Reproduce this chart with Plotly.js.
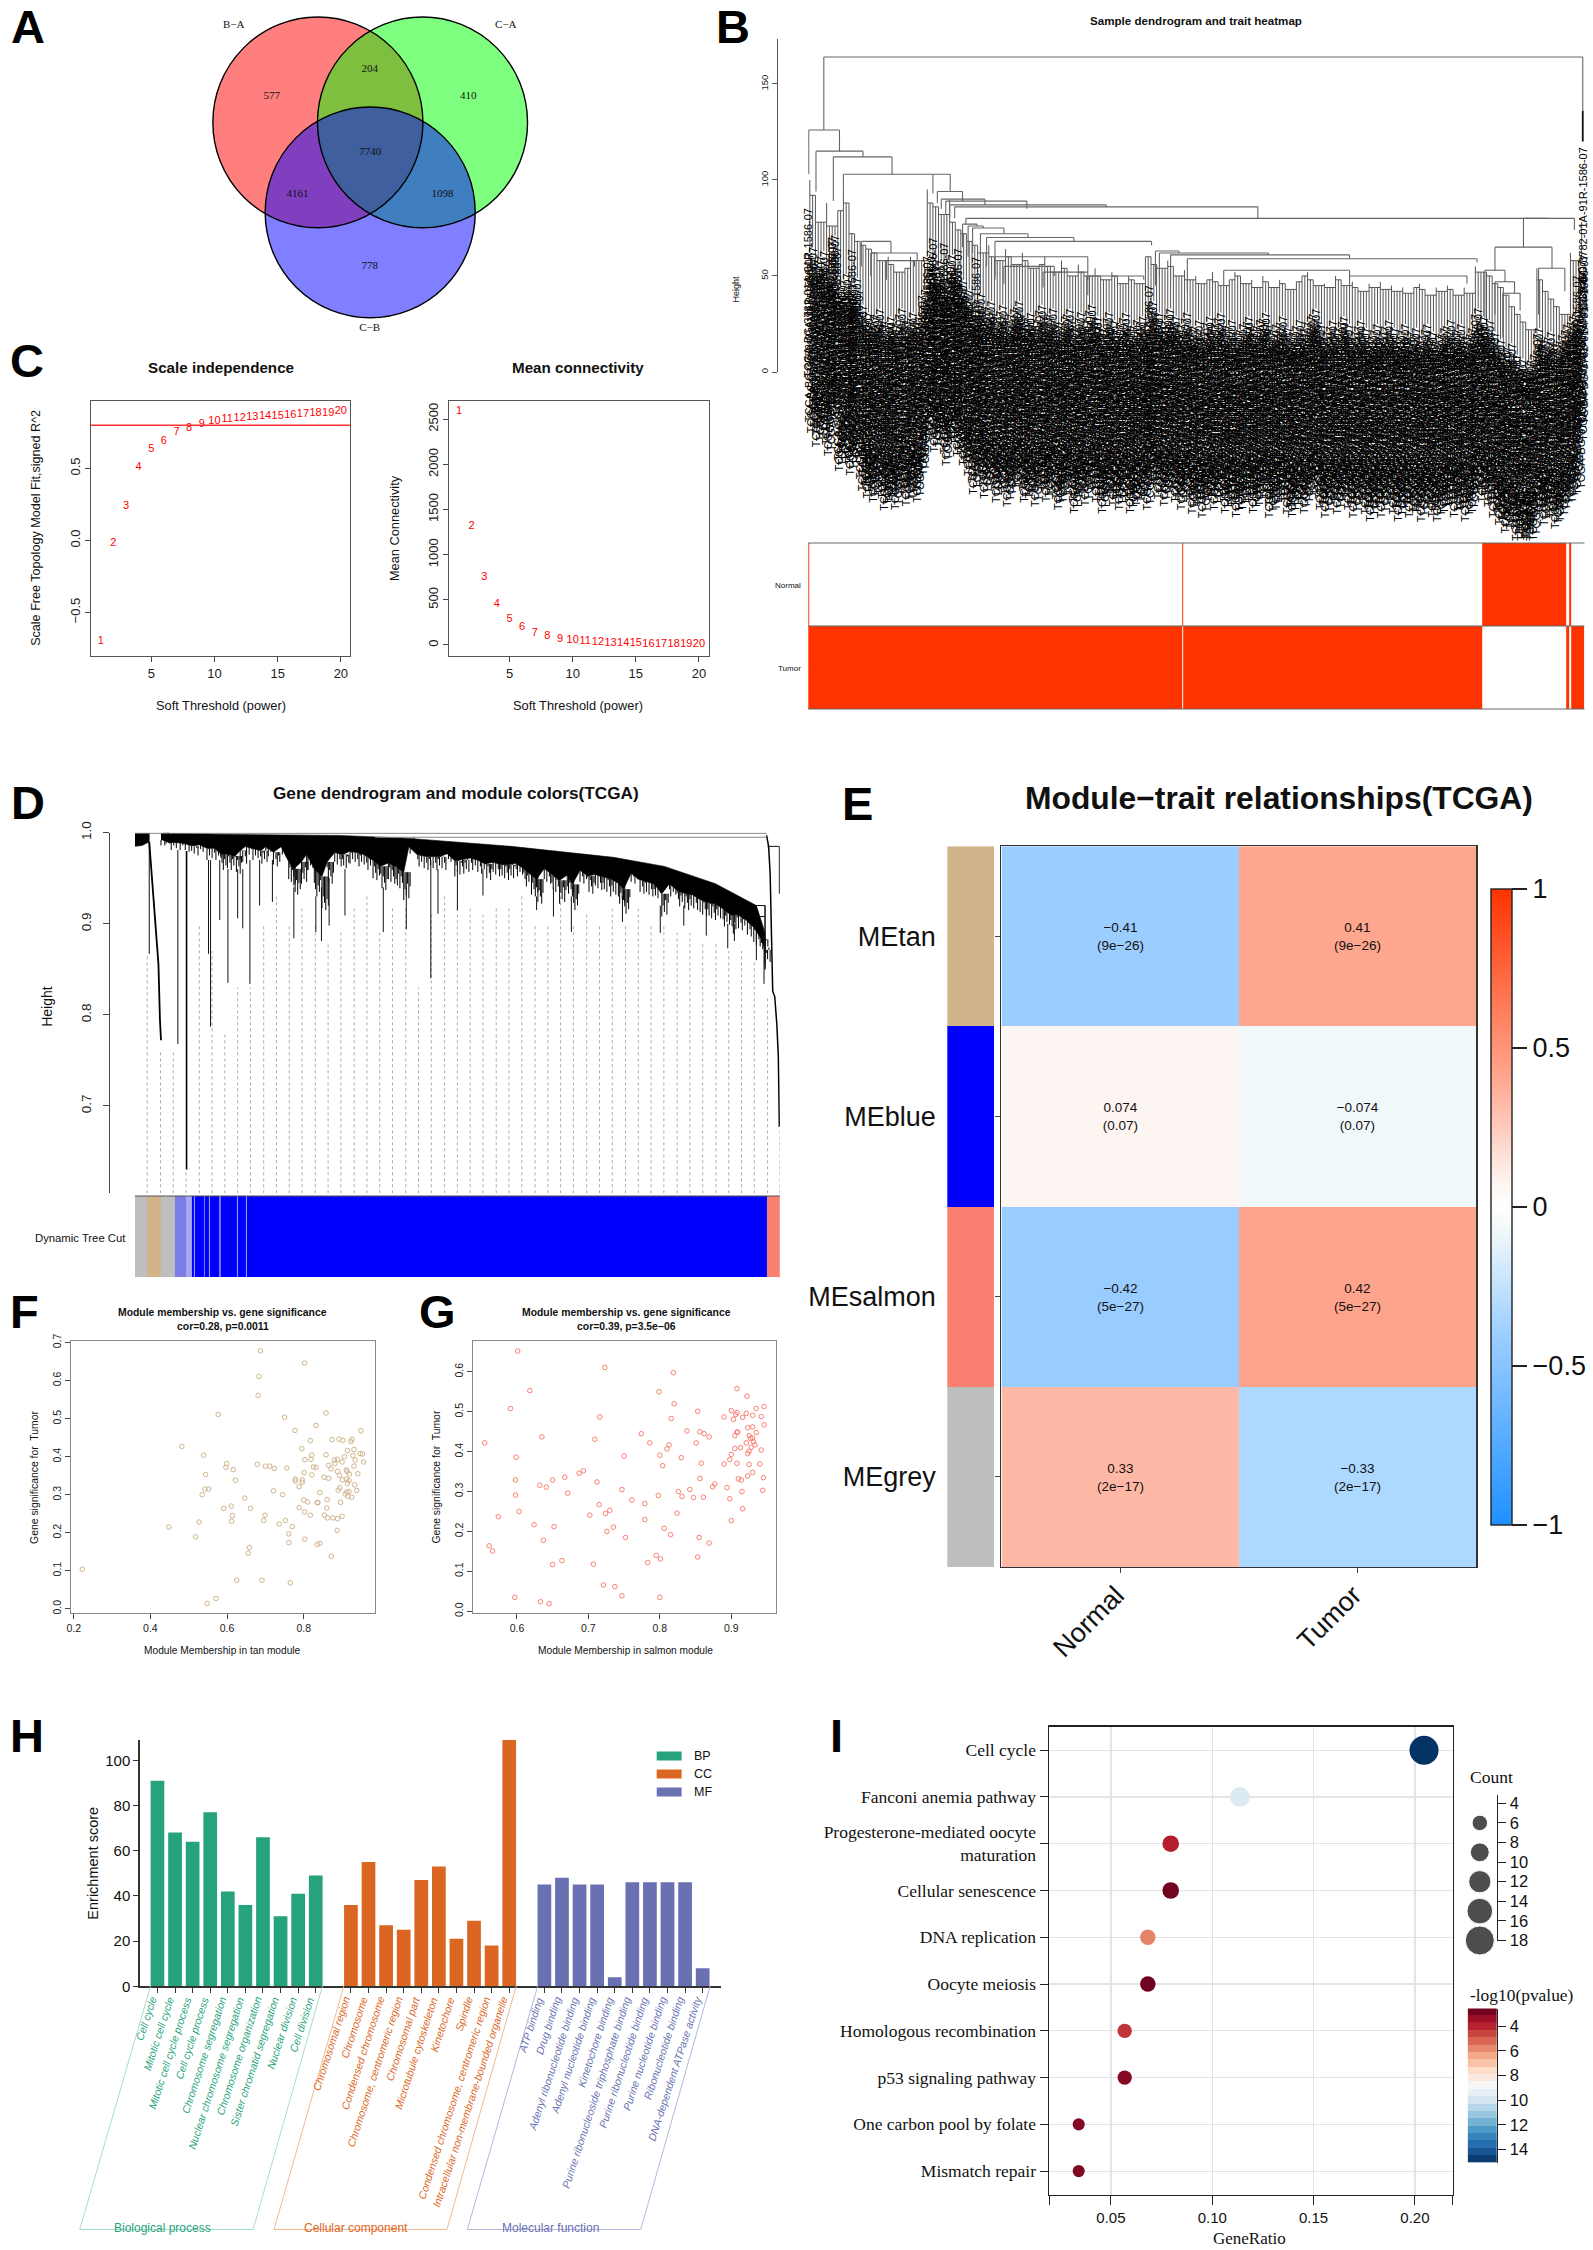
<!DOCTYPE html>
<html><head><meta charset="utf-8">
<script src="https://cdn.plot.ly/plotly-3.0.1.min.js"></script>
<style>html,body{margin:0;padding:0;background:#fff}</style></head>
<body><div id="fig" style="width:1593px;height:2250px"></div>
<script>
// ---------- DATA ----------
// A: Venn
const vennNames=["B−A","C−A","C−B"];
const vennCircles=[[319,122.4,105.4],[424,122.4,105.4],[371.5,212.4,105.4]];
const vennFills=["rgba(255,0,0,.5)","rgba(0,255,0,.5)","rgba(0,0,255,.5)"];
const vennCounts=["577","204","410","7740","4161","1098","778"];
const vennCountX=[272.7,371,469.8,371.5,298.6,444,371];
const vennCountY=[96,69,96,152.5,194.7,194.7,266.7];
const vennNameX=[234.5,507.6,371];
const vennNameY=[25.3,25.3,328];
// C: soft threshold
const powers=[1,2,3,4,5,6,7,8,9,10,11,12,13,14,15,16,17,18,19,20];
const scaleFit=[-.70,-.016,.237,.506,.633,.692,.75,.776,.808,.825,.844,.847,.857,.86,.86,.87,.873,.883,.886,.896];
const meanConn=[2593,1317,747,456,290,197,135,93,67,47,36,26,21,16,16,10,10,10,5,5];
// B: sample dendrogram
const sampleLabel="TCGA-BG-3782-01A-91R-1586-07";
const bStemTop=[100,92,78,88,76,84,95,88,72,68,66,64,62,58,60,56,52,54,60,58,58,95,88,86,82,90,78,74,72,
68,66,62,66,60,58,64,60,56,62,58,54,56,60,55,52,58,54,50,56,52,50,54,50,48,52,50,46,50,48,46,60,
60,56,54,58,55,50,53,48,50,46,48,52,47,45,48,52,50,46,48,44,50,47,44,48,46,43,47,50,52,48,45,46,44,50,48,45,47,44,42,46,44,47,43,45,42,44,41,44,46,43,40,44,42,45,43,40,44,41,55,52,
52,50,46,44,40,34,30,26,22,54,48,42,38,34,30,62,58,78];
const bStemBottom=[62,55,60,50,68,42,48,40,46,32,28,26,30,22,26,22,30,24,28,26,40,60,52,55,45,58,50,45,40,
30,38,28,34,26,32,24,30,34,26,28,24,32,26,30,22,26,30,20,28,24,32,26,20,28,24,22,28,20,24,26,22,
34,28,24,30,26,22,28,20,24,18,26,22,28,20,24,18,22,26,20,24,28,18,22,26,20,18,24,20,26,30,22,18,24,20,26,22,18,24,20,16,22,18,24,20,16,22,18,20,16,22,18,16,20,24,18,22,16,20,30,26,
24,18,14,10,12,6,4,2,6,20,14,18,12,16,22,26,30,58];
const bLeafStep=[0,2.5,5,7.5];
const bLeafDrop=[0,-6,3,-3];
const bMerges=[[28,1385,164,126,136],[1,56,126,103,115],[14,98,115,94,112],[45,150,112,89,103],[63,223,103,95,103],[223,254,103,93,94],[231,276,94,88,89],[238,316,90,85,87],[246,391,89,82,85],[253,533,87,80,86],[262,804,86,80,80],[282,1324,80,77,80],[1279,1370,80,65,74],[1228,1330,65,53,54],[1210,1246,53,28,47],[1228,1263,47,30,41],[1242,1273,41,18,32],[1306,1353,54,30,42],[276,302,77,65,76],[286,313,76,60,75],[294,350,75,62,72],[308,393,72,60,70],[319,475,70,55,68],[334,614,68,50,66],[621,663,63,45,62],[628,823,62,50,61],[648,968,61,47,59],[678,1196,59,42,57],[95,148,68,55,62],[112,195,62,50,58],[140,190,58,48,55],[743,968,53,45,50],[968,1178,50,42,46],[334,500,60,48,52],[350,440,55,46,50],[420,500,52,44,48],[500,600,50,40,48]];
const bExtraLeafX=[1385,0,43,78,223,243,268,300,610,1375];
const bExtraLeafH=[117,85,70,64,70,67,64,60,45,50];
const bTraitEdges=[0,1,669,670.5,1205,1355,1360,1365,1388];
const bNormal=[1,0,1,0,1,0,1,0];
const bTumor=[1,1,0,1,0,1,0,1];
// D: gene dendrogram
const dTopX=[51,200,400,531,736,936,1036,1136,1216,1233];
const dTopH=[.9995,.998,.997,.994,.985,.973,.963,.944,.920,.89];
const dLowX=[51,56,66,81,96,111,126,141,156,168,181,196,206,216,231,246,256,271,286,301,311,326,336,351,366,376,391,406,421,436,451,466,481,496,511,526,536,551,566,581,596,611,626,641,656,671,686,701,716,731,746,761,776,786,801,816,831,846,856,871,886,901,916,931,946,956,971,986,1001,1016,1031,1046,1061,1076,1091,1106,1121,1136,1151,1166,1181,1196,1211,1226,1233];
const dLowH=[.986,.986,.981,.981,.979,.975,.977,.970,.970,.959,.959,.955,.966,.974,.970,.966,.974,.963,.974,.944,.930,.944,.959,.930,.915,.944,.963,.959,.966,.963,.959,.948,.937,.944,.937,.926,.977,.963,.959,.959,.959,.966,.952,.955,.959,.955,.948,.952,.948,.948,.952,.941,.930,.922,.944,.933,.922,.933,.915,.944,.933,.937,.933,.930,.922,.911,.944,.933,.930,.926,.908,.930,.919,.915,.915,.908,.904,.904,.897,.889,.893,.886,.875,.867,.856];
const dFringeStep=[0,2.5,5,7.5,10,12.5];
const dFringeRise=[0,.012,.005,.018,.002,.015,.008];
const dSpikes=[[84,.981,.768],[144,.97,.867],[148,.97,.787],[166,.97,.904],[182,.96,.835],[201,.96,.906],[211,.96,.895],[225,.97,.834],[244,.97,.920],[269,.97,.924],[311,.94,.884],[354,.93,.891],[365,.94,.881],[380,.95,.898],[411,.96,.909],[486,.94,.891],[531,.94,.894],[579,.97,.840],[593,.96,.911],[631,.96,.915],[681,.96,.931],[786,.93,.915],[819,.94,.908],[854,.93,.891],[954,.93,.902],[1028,.92,.890],[1074,.92,.898],[1118,.92,.887],[1160,.90,.873],[1173,.90,.881],[1216,.89,.860],[1231,.89,.834],[28,.99,.867],[1233,.92,.85]];
const dDeepSpikeX=[101],dDeepSpikeTop=[.98],dDeepSpikeBottom=[.630];
const dSlantX=[28,36,41,46,49,51],dSlantH=[.990,.93,.897,.856,.794,.772];
const dRightX=[1236,1240,1243,1248,1252,1256,1259,1260,1261],dRightH=[.997,.985,.955,.826,.82,.79,.755,.72,.677];
const dGuideX=[24,50,75,100,126,151,176,201,226,252,277,302,327,353,378,403,429,454,479,504,530,555,580,606,631,656,681,707,732,757,783,808,833,858,884,909,934,960,985,1010,1035,1061,1086,1111,1137,1162,1187,1212,1238,1262];
const dGuideTop=[.865,.762,.762,.63,.90,.87,.78,.83,.83,.90,.93,.90,.92,.90,.88,.89,.92,.93,.89,.92,.92,.83,.91,.93,.92,.92,.91,.92,.92,.93,.90,.90,.93,.90,.91,.90,.92,.90,.92,.90,.90,.89,.89,.88,.88,.87,.87,.86,.82,.675];
const dCutEdges=[0,24,51,79,100,112,116,118,135,137,145,146,165,168,176,177,189,190,200,201,218,219,1236,1262];
const dCutClass=[0,1,0,4,5,2,5,2,4,2,5,2,4,2,5,2,5,2,5,2,5,2,3];
const dCutColors=["#bebebe","#d2b48c","#0000ff","#fa8072","#7c7ce8","#a8a8f0"];
// E: module-trait
const modules=["MEtan","MEblue","MEsalmon","MEgrey"];
const moduleColors=["#d2b48c","#0000ff","#fa8072","#bebebe"];
const traits=["Normal","Tumor"];
const corr=[[-.41,.41],[.074,-.074],[-.42,.42],[.33,-.33]];
const corrText=[["−0.41<br>(9e−26)","0.41<br>(9e−26)"],["0.074<br>(0.07)","−0.074<br>(0.07)"],["−0.42<br>(5e−27)","0.42<br>(5e−27)"],["0.33<br>(2e−17)","−0.33<br>(2e−17)"]];
// F, G: module membership vs gene significance
const fX=[.2225,.448,.482,.518,.527,.535,.539,.544,.542,.552,.577,.571,.548,.591,.597,.599,.611,.614,.612,.616,.622,.625,.646,.655,.658,.661,.679,.681,.683,.687,.691,.695,.699,.700,.711,.723,.721,.736,.745,.750,.752,.756,.761,.761,.770,.765,.777,.778,.778,.788,.788,.796,.796,.795,.800,.802,.801,.802,.803,.803,.810,.817,.817,.819,.821,.821,.825,.832,.832,.835,.837,.835,.842,.842,.853,.854,.858,.858,.861,.860,.862,.865,.865,.871,.872,.874,.876,.881,.880,.888,.887,.888,.892,.890,.888,.894,.896,.893,.900,.900,.901,.902,.906,.908,.911,.913,.911,.914,.914,.912,.915,.918,.918,.919,.923,.926,.925,.928,.931,.931,.934,.933,.938,.941,.947,.949,.953,.956];
const fY=[.104,.215,.427,.189,.228,.300,.404,.353,.315,.315,.511,.027,.014,.264,.372,.382,.270,.245,.230,.366,.338,.075,.291,.146,.161,.264,.380,.561,.611,.678,.075,.232,.246,.375,.375,.369,.310,.223,.300,.504,.232,.370,.197,.174,.216,.068,.469,.341,.336,.321,.266,.339,.333,.421,.286,.646,.358,.255,.183,.392,.281,.246,.442,.393,.404,.352,.373,.372,.482,.279,.279,.169,.172,.306,.346,.246,.515,.405,.287,.265,.239,.343,.377,.368,.138,.445,.239,.382,.391,.393,.206,.237,.446,.312,.361,.318,.280,.351,.386,.243,.339,.443,.400,.302,.365,.361,.341,.330,.416,.307,.296,.308,.337,.354,.440,.446,.293,.403,.419,.375,.391,.326,.311,.355,.408,.468,.407,.386];
const gX=[.555,.561,.566,.574,.591,.597,.598,.598,.599,.601,.603,.618,.624,.632,.633,.635,.637,.641,.645,.650,.650,.652,.663,.667,.671,.687,.693,.702,.707,.709,.712,.715,.716,.721,.723,.724,.726,.730,.735,.737,.747,.747,.750,.752,.761,.774,.779,.779,.783,.786,.795,.798,.799,.800,.800,.801,.804,.806,.810,.813,.815,.816,.819,.820,.824,.826,.830,.831,.838,.842,.847,.851,.853,.853,.855,.856,.856,.858,.861,.862,.869,.869,.874,.877,.890,.890,.894,.898,.898,.900,.900,.900,.903,.905,.905,.906,.908,.908,.908,.908,.909,.910,.913,.914,.915,.916,.916,.921,.921,.922,.923,.923,.923,.925,.925,.925,.927,.928,.930,.931,.930,.930,.930,.933,.935,.935,.940,.942,.942,.944,.945,.946,.946];
const gY=[.422,.164,.151,.237,.508,.035,.329,.291,.386,.652,.250,.553,.217,.316,.024,.437,.178,.311,.019,.329,.117,.212,.127,.336,.296,.346,.352,.241,.118,.431,.324,.267,.487,.066,.611,.245,.200,.253,.211,.062,.039,.305,.389,.185,.279,.445,.270,.230,.122,.422,.140,.290,.550,.035,.391,.131,.365,.208,.407,.417,.192,.483,.598,.520,.246,.300,.385,.288,.452,.305,.285,.422,.136,.501,.185,.333,.450,.371,.286,.445,.171,.437,.312,.319,.369,.487,.310,.282,.380,.393,.227,.503,.481,.408,.440,.493,.558,.371,.498,.449,.449,.332,.410,.329,.300,.486,.257,.422,.496,.539,.460,.395,.339,.368,.401,.440,.433,.411,.434,.425,.491,.462,.348,.417,.508,.448,.369,.488,.404,.303,.335,.513,.467];
// H: GO enrichment
const bpTerms=["Cell cycle","Mitotic cell cycle","Mitotic cell cycle process","Cell cycle process","Chromosome segregation","Nuclear chromosome segregation","Chromosome organization","Sister chromatid segregation","Nuclear division","Cell division"];
const ccTerms=["Chromosomal region","Chromosome","Condensed chromosome","Chromosome, centromeric region","Chromosomal part","Microtubule cytoskeleton","Kinetochore","Spindle","Condensed chromosome, centromeric region","Intracellular non-membrane-bounded organelle"];
const mfTerms=["ATP binding","Drug binding","Adenyl ribonucleotide binding","Adenyl nucleotide binding","Kinetochore binding","Purine ribonucleoside triphosphate binding","Purine ribonucleotide binding","Purine nucleotide binding","Ribonucleotide binding","DNA-dependent ATPase activity"];
const bpScore=[91,68,64,77,42,36,66,31,41,49];
const ccScore=[36,55,27,25,47,53,21,29,18,109];
const mfScore=[45,48,45,45,4,46,46,46,46,8];
const bpPos=[0,1,2,3,4,5,6,7,8,9],ccPos=[11,12,13,14,15,16,17,18,19,20],mfPos=[22,23,24,25,26,27,28,29,30,31];
const goColors=["#26a37c","#db6622","#6a71b3"],goLight=["#a8dcc9","#f3b894","#b3b8dc"];
// I: KEGG
const pathways=["Cell cycle","Fanconi anemia pathway","Progesterone-mediated oocyte<br>maturation","Cellular senescence","DNA replication","Oocyte meiosis","Homologous recombination","p53 signaling pathway","One carbon pool by folate","Mismatch repair"];
const geneRatio=[.2045,.1136,.0795,.0795,.0682,.0682,.0568,.0568,.0341,.0341];
const keggCount=[18,10,7,7,6,6,5,5,3,3];
const keggLogP=[15,9.7,3.9,2.75,5.7,2.7,4.3,3.1,3.05,3.0];
const countLegend=[3,6,9,12,15,18];
const pLevels=[2.8,3.4,4,4.6,5.2,5.8,6.4,7,7.6,8.2,8.8,9.4,10,10.6,11.2,11.8,12.4,13,13.6,14.2,14.8];
const rdbu=["#67001f","#b2182b","#d6604d","#f4a582","#fddbc7","#f7f7f7","#d1e5f0","#92c5de","#4393c3","#2166ac","#053061"];

// ---------- HELPERS ----------
const W=1593,H=2250,KX=.9965;
const fx=p=>p*KX/W, fy=p=>1-p/H;
const SANS="Liberation Sans",SERIF="Liberation Serif";
const ann=[],shapes=[],traces=[];
const layout={width:W,height:H,margin:{l:0,r:0,t:0,b:0,pad:0},showlegend:false,paper_bgcolor:"#fff",plot_bgcolor:"rgba(0,0,0,0)",font:{family:SANS,color:"#111"},annotations:ann,shapes:shapes};
function T(text,x,y,o={}){ann.push({text:text,x:fx(x),y:fy(y),xref:"paper",yref:"paper",showarrow:false,xanchor:o.anchor||"center",yanchor:"middle",textangle:o.angle||0,font:{family:o.family||SANS,size:o.size||12,color:o.color||"#111"}});}
function axes(n,l,r,t,b,xo,yo){
  const sx=n==1?"xaxis":"xaxis"+n, sy=n==1?"yaxis":"yaxis"+n;
  layout[sx]=Object.assign({domain:[fx(l),fx(r)],anchor:n==1?"y":"y"+n,showgrid:false,zeroline:false},xo);
  layout[sy]=Object.assign({domain:[fy(b),fy(t)],anchor:n==1?"x":"x"+n,showgrid:false,zeroline:false},yo);
  return {xaxis:n==1?"x":"x"+n,yaxis:n==1?"y":"y"+n};
}
function segs(list){const x=[],y=[];list.forEach(s=>{x.push(s[0],s[1],null);y.push(s[2],s[3],null);});return {x,y};}
const hid={visible:false};
const rAxis=(size,c)=>({showline:true,linecolor:c||"#555",linewidth:1,mirror:true,ticks:"outside",ticklen:5,tickcolor:"#444",tickfont:{size:size,color:"#222"}});

// ---------- A ----------
let a=axes(1,200,540,0,340,Object.assign({range:[200,540]},hid),Object.assign({range:[340,0]},hid));
vennCircles.forEach((c,i)=>shapes.push({type:"circle",xref:"x",yref:"y",x0:c[0]-c[2],x1:c[0]+c[2],y0:c[1]-c[2],y1:c[1]+c[2],fillcolor:vennFills[i],line:{width:0},layer:"below"}));
vennCircles.forEach(c=>shapes.push({type:"circle",xref:"x",yref:"y",x0:c[0]-c[2],x1:c[0]+c[2],y0:c[1]-c[2],y1:c[1]+c[2],fillcolor:"rgba(0,0,0,0)",line:{width:1.4,color:"#000"},layer:"below"}));
traces.push(Object.assign({type:"scatter",mode:"text",x:vennCountX,y:vennCountY,text:vennCounts,textfont:{family:SERIF,size:11,color:"#111"},cliponaxis:false},a));
traces.push(Object.assign({type:"scatter",mode:"text",x:vennNameX,y:vennNameY,text:vennNames,textfont:{family:SERIF,size:11,color:"#111"},cliponaxis:false},a));

// ---------- C ----------
a=axes(2,91.4,351.7,401,656,Object.assign({range:[.24,20.76],tickvals:[5,10,15,20]},rAxis(13)),Object.assign({range:[-.802,.968],tickvals:[-.5,0,.5],ticktext:["−0.5","0.0","0.5"],tickangle:-90},rAxis(13)));
traces.push(Object.assign({type:"scatter",mode:"text",x:powers,y:scaleFit,text:powers.map(String),textfont:{size:11,color:"#ff0000"},cliponaxis:false},a));
shapes.push({type:"line",xref:"x2 domain",yref:"y2",x0:0,x1:1,y0:.8,y1:.8,line:{color:"#ff3030",width:1.4}});
a=axes(3,451,711,401,656,Object.assign({range:[.24,20.76],tickvals:[5,10,15,20]},rAxis(13)),Object.assign({range:[-122,2702],tickvals:[0,500,1000,1500,2000,2500],tickangle:-90},rAxis(13)));
traces.push(Object.assign({type:"scatter",mode:"text",x:powers,y:meanConn,text:powers.map(String),textfont:{size:11,color:"#ff0000"},cliponaxis:false},a));
T("<b>Scale independence</b>",221.5,367.5,{size:15.2});T("<b>Mean connectivity</b>",580.5,367.5,{size:15.2});
T("Soft Threshold (power)",221.5,706,{size:12.8});T("Soft Threshold (power)",580.5,706,{size:12.8});
T("Scale Free Topology Model Fit,signed R^2",36,528,{size:12.6,angle:-90});
T("Mean Connectivity",395.5,528,{size:12.8,angle:-90});

// ---------- B ----------
a=axes(4,811,1590,39,372,Object.assign({range:[0,1388]},hid),{range:[0,173.4],tickvals:[0,50,100,150],tickangle:-90,showline:true,linecolor:"#555",ticks:"outside",ticklen:5,tickcolor:"#555",tickfont:{size:9.5,color:"#222"},anchor:"free",position:fx(780)});
const stemX=bStemTop.map((_,i)=>3+10*i);
const sList=[];
stemX.forEach((x,i)=>{sList.push([x,x,bStemBottom[i],bStemTop[i]]);
  if(i<stemX.length-1){const h=Math.min(bStemTop[i],bStemTop[i+1]);sList.push([x,stemX[i+1],h,h]);sList.push([x+5,x+5,bStemBottom[i]+bLeafDrop[2],h]);}});
let s=segs(sList);
traces.push(Object.assign({type:"scatter",mode:"lines",x:s.x,y:s.y,line:{color:"#555",width:1}},a));
const mList=[];
bMerges.forEach(m=>{mList.push([m[0],m[1],m[2],m[2]],[m[0],m[0],m[3],m[2]],[m[1],m[1],m[4],m[2]]);});
s=segs(mList);
traces.push(Object.assign({type:"scatter",mode:"lines",x:s.x,y:s.y,line:{color:"#666",width:1.1}},a));
traces.push(Object.assign({type:"scatter",mode:"lines",x:[1385,1385],y:[136,120],line:{color:"#111",width:1.8}},a));
function leafLabel(x,h){ann.push({text:sampleLabel,x:x,y:Math.max(h,0.2),xref:"x4",yref:"y4",showarrow:false,xanchor:"center",yanchor:"top",textangle:-90,font:{size:11,color:"#000"},borderpad:0,borderwidth:0});}
stemX.forEach((x,i)=>bLeafStep.forEach((d,k)=>leafLabel(x+d,bStemBottom[i]+bLeafDrop[k])));
bExtraLeafX.forEach((x,i)=>leafLabel(x,bExtraLeafH[i]));
a=axes(5,811,1590,543,709,Object.assign({range:[0,1388]},hid),Object.assign({range:[2,0]},hid));
traces.push(Object.assign({type:"heatmap",x:bTraitEdges,y:[0,1,2],z:[bNormal,bTumor],zmin:0,zmax:1,colorscale:[[0,"#ffffff"],[1,"#ff3300"]],showscale:false},a));
[543,626,709].forEach(y=>shapes.push({type:"line",xref:"paper",yref:"paper",x0:fx(811),x1:fx(1590),y0:fy(y),y1:fy(y),line:{color:"#666",width:1}}));
T("<b>Sample dendrogram and trait heatmap</b>",1200,20.6,{size:11.6});
T("Height",738.5,288.7,{size:9,angle:-90});
T("Normal",806,585,{size:8,anchor:"right"});T("Tumor",806,668,{size:8,anchor:"right"});

// ---------- D ----------
a=axes(6,135.4,782.6,832.7,1193.3,Object.assign({range:[0,1262]},hid),{range:[.604,1],tickvals:[.7,.8,.9,1],ticktext:["0.7","0.8","0.9","1.0"],tickangle:-90,ticklabelstandoff:7,showline:true,linecolor:"#444",ticks:"outside",ticklen:6,tickcolor:"#444",tickfont:{size:13.5,color:"#222"},anchor:"free",position:fx(109.7)});
s=segs(dGuideX.map((x,i)=>[x,x,.604,dGuideTop[i]]));
traces.push(Object.assign({type:"scatter",mode:"lines",x:s.x,y:s.y,line:{color:"#aaa",width:1,dash:"dot"}},a));
const topAt=x=>{let j=0;while(j<dTopX.length-2&&dTopX[j+1]<x)j++;const t=(x-dTopX[j])/(dTopX[j+1]-dTopX[j]);return dTopH[j]+t*(dTopH[j+1]-dTopH[j]);};
const solidLow=dLowX.map((x,i)=>{const t=topAt(x);return t-(t-dLowH[i])*.55;});
traces.push(Object.assign({type:"scatter",mode:"lines",fill:"toself",fillcolor:"#000",line:{color:"#000",width:.6},x:dTopX.concat(dLowX.slice().reverse()),y:dTopH.concat(solidLow.slice().reverse())},a));
traces.push(Object.assign({type:"scatter",mode:"lines",fill:"toself",fillcolor:"#000",line:{color:"#000",width:.6},x:[0,28,28,14,0],y:[.9995,.9995,.99,.986,.985]},a));
const fringe=[];let fk=0;
dLowX.forEach((x,i)=>dFringeStep.forEach(d=>{fringe.push([x+d,x+d,dLowH[i]+dFringeRise[fk%dFringeRise.length],solidLow[i]]);fk++;}));
s=segs(fringe);
traces.push(Object.assign({type:"scatter",mode:"lines",x:s.x,y:s.y,line:{color:"#000",width:1}},a));
s=segs(dSpikes.map(v=>[v[0],v[0],v[2],v[1]]));
traces.push(Object.assign({type:"scatter",mode:"lines",x:s.x,y:s.y,line:{color:"#111",width:1}},a));
s=segs(dDeepSpikeX.map((x,i)=>[x,x,dDeepSpikeBottom[i],dDeepSpikeTop[i]]));
traces.push(Object.assign({type:"scatter",mode:"lines",x:s.x,y:s.y,line:{color:"#000",width:1.6}},a));
traces.push(Object.assign({type:"scatter",mode:"lines",x:dSlantX,y:dSlantH,line:{color:"#000",width:1.8}},a));
traces.push(Object.assign({type:"scatter",mode:"lines",x:dRightX,y:dRightH,line:{color:"#000",width:1.5}},a));
traces.push(Object.assign({type:"scatter",mode:"lines",x:[1238,1261,1261],y:[.985,.985,.933],line:{color:"#111",width:1}},a));
traces.push(Object.assign({type:"scatter",mode:"lines",x:[1211,1233,1233],y:[.92,.92,.85],line:{color:"#111",width:1}},a));
traces.push(Object.assign({type:"scatter",mode:"lines",x:[1211,1233],y:[.908,.908],line:{color:"#111",width:1}},a));
traces.push(Object.assign({type:"scatter",mode:"lines",x:[0,1236],y:[.9995,.9995],line:{color:"#777",width:1.4}},a));
traces.push(Object.assign({type:"scatter",mode:"lines",x:[470,1236],y:[.995,.995],line:{color:"#888",width:1.2}},a));
a=axes(7,135.4,782.6,1196,1277,Object.assign({range:[0,1262]},hid),Object.assign({range:[0,1]},hid));
traces.push(Object.assign({type:"heatmap",x:dCutEdges,y:[0,1],z:[dCutClass],zmin:0,zmax:5,colorscale:dCutColors.map((c,i)=>[i/5,c]),showscale:false},a));
shapes.push({type:"line",xref:"paper",yref:"paper",x0:fx(135.4),x1:fx(782.6),y0:fy(1196),y1:fy(1196),line:{color:"#555",width:1}});
T("<b>Gene dendrogram and module colors(TCGA)</b>",458,792.7,{size:17.2});
T("Height",47,1006,{size:14,angle:-90});
T("Dynamic Tree Cut",128,1238,{size:11.3,anchor:"right"});

// ---------- E ----------
a=axes(8,950.5,997.5,846.2,1567,Object.assign({range:[0,1]},hid),{autorange:"reversed",type:"category",ticks:"outside",ticklen:5,tickcolor:"rgba(0,0,0,0)",tickfont:{size:27,color:"#111"},showline:false});
traces.push(Object.assign({type:"heatmap",x:[0,1],y:modules,z:modules.map((_,i)=>[i]),zmin:0,zmax:3,colorscale:moduleColors.map((c,i)=>[i/3,c]),showscale:false},a));
a=axes(9,1005,1481.6,846.2,1567,{type:"category",showline:true,mirror:true,linecolor:"#333",linewidth:1.2,showticklabels:false},{autorange:"reversed",type:"category",showline:true,mirror:true,linecolor:"#333",linewidth:1.2,showticklabels:false});
traces.push(Object.assign({type:"heatmap",x:traits,y:modules,z:corr,text:corrText,texttemplate:"%{text}",textfont:{size:13.5,color:"#111",family:SANS},zmin:-1,zmax:1,
 colorscale:[[0,"#1E90FF"],[.29,"#99CCFF"],[.335,"#ADD8FF"],[.463,"#f1f8fa"],[.5,"#ffffff"],[.537,"#fdf5f1"],[.665,"#ffb8a5"],[.705,"#ffa68e"],[1,"#ff3300"]],
 colorbar:{x:fx(1496),xanchor:"left",xpad:0,y:fy(1525),yanchor:"bottom",ypad:0,lenmode:"pixels",len:635.5,thicknessmode:"pixels",thickness:21.3,tickmode:"array",tickvals:[-1,-.5,0,.5,1],ticktext:["−1","−0.5","0","0.5","1"],ticks:"outside",ticklen:15,tickwidth:1.4,tickcolor:"#222",outlinewidth:1.4,outlinecolor:"#222",tickfont:{size:27,color:"#111"}}},a));
T("<b>Module−trait relationships(TCGA)</b>",1283,797.7,{size:31.8});
T(traits[0],1092,1621.6,{size:27,angle:-45});
T(traits[1],1334,1618,{size:27,angle:-45});

// ---------- F, G ----------
a=axes(10,71.3,376,1340.7,1613.3,Object.assign({range:[.193,.985],tickvals:[.2,.4,.6,.8],tickformat:".1f"},rAxis(10.5,"#888")),Object.assign({range:[-.012,.705],tickvals:[0,.1,.2,.3,.4,.5,.6,.7],tickformat:".1f",tickangle:-90},rAxis(10.5,"#888")));
traces.push(Object.assign({type:"scatter",mode:"markers",x:fX,y:fY,marker:{symbol:"circle-open",size:4.6,color:"#d2b48c",opacity:1,line:{width:1,color:"#d2b48c"}}},a));
a=axes(11,475,778.3,1340.7,1613.3,Object.assign({range:[.539,.962],tickvals:[.6,.7,.8,.9],tickformat:".1f"},rAxis(10.5,"#888")),Object.assign({range:[-.005,.678],tickvals:[0,.1,.2,.3,.4,.5,.6],tickformat:".1f",tickangle:-90},rAxis(10.5,"#888")));
traces.push(Object.assign({type:"scatter",mode:"markers",x:gX,y:gY,marker:{symbol:"circle-open",size:4.6,color:"#fa8072",opacity:1,line:{width:1,color:"#fa8072"}}},a));
T("<b>Module membership vs. gene significance</b>",223.7,1312.7,{size:10.4});
T("<b>cor=0.28, p=0.0011</b>",223.7,1326,{size:10.4});
T("Module Membership in tan module",223.7,1650.7,{size:10.2});
T("Gene significance for  Tumor",34,1477,{size:10.4,angle:-90});
T("<b>Module membership vs. gene significance</b>",629,1312.7,{size:10.4});
T("<b>cor=0.39, p=3.5e−06</b>",629,1326,{size:10.4});
T("Module Membership in salmon module",628,1650.7,{size:10.2});
T("Gene significance for  Tumor",438,1477,{size:10.4,angle:-90});

// ---------- H ----------
a=axes(12,140,723.5,1739.5,1986.3,{range:[-1.02,32.04],tickvals:bpPos.concat(ccPos,mfPos),showticklabels:false,ticks:"outside",ticklen:5,tickcolor:"#333",showline:true,linecolor:"#333",linewidth:1.2},{range:[0,109.2],tickvals:[0,20,40,60,80,100],ticks:"outside",ticklen:5,tickcolor:"#333",showline:true,linecolor:"#333",linewidth:1.2,tickfont:{size:15,color:"#111"}});
[[bpPos,bpScore],[ccPos,ccScore],[mfPos,mfScore]].forEach((d,i)=>traces.push(Object.assign({type:"bar",x:d[0],y:d[1],width:.78,marker:{color:goColors[i]}},a)));
layout.barmode="overlay";
[[bpPos,bpTerms],[ccPos,ccTerms],[mfPos,mfTerms]].forEach((d,k)=>d[0].forEach((p,i)=>ann.push({text:"<i>"+d[1][i]+"</i>",x:p,y:fy(1994),xref:"x12",yref:"paper",showarrow:false,xanchor:"right",yanchor:"top",xshift:2,textangle:-72,font:{size:10.6,color:goColors[k]},borderpad:0})));
[[151,80,254,323.5],[345,275,448.5,518],[539.5,469,643,712.5]].forEach((p,k)=>shapes.push({type:"path",xref:"paper",yref:"paper",path:`M ${fx(p[0])} ${fy(1986.3)} L ${fx(p[1])} ${fy(2229.5)} L ${fx(p[2])} ${fy(2229.5)} L ${fx(p[3])} ${fy(1986.3)}`,line:{color:goLight[k],width:1},fillcolor:"rgba(0,0,0,0)"}));
["Biological process","Cellular component","Molecular function"].forEach((t,k)=>T(t,[163,357.5,552][k],2227.5,{size:12,color:goColors[k]}));
["BP","CC","MF"].forEach((t,k)=>{const y=[1756,1774,1792][k];shapes.push({type:"rect",xref:"paper",yref:"paper",x0:fx(659),x1:fx(684),y0:fy(y-4.5),y1:fy(y+4.5),fillcolor:goColors[k],line:{width:0}});T(t,694,y,{size:12.5,anchor:"left"});});
T("Enrichment score",93,1863,{size:14.5,angle:-90});

// ---------- I ----------
const cScale=rdbu.map((c,i)=>[i/10,c]);
a=axes(13,1053,1457.7,1726.8,2194.5,{range:[.0196,.2186],tickvals:[.0196,.05,.1,.15,.2,.2186],ticktext:["","0.05","0.10","0.15","0.20",""],ticks:"outside",ticklen:8.5,tickcolor:"#222",showline:true,mirror:true,linecolor:"#222",linewidth:1.8,showgrid:true,gridcolor:"#e4e4e4",gridwidth:1.2,tickfont:{size:15,color:"#111"}},
 {range:[9.5,-.5],tickmode:"array",tickvals:pathways.map((_,i)=>i),ticktext:pathways,ticks:"outside",ticklen:8,tickcolor:"#222",showline:true,mirror:true,linecolor:"#222",linewidth:1.8,showgrid:true,gridcolor:"#e4e4e4",gridwidth:1.2,tickfont:{family:SERIF,size:17.5,color:"#111"}});
traces.push(Object.assign({type:"scatter",mode:"markers",x:geneRatio,y:pathways.map((_,i)=>i),marker:{size:keggCount.map(c=>8.7+1.13*c),color:keggLogP,cmin:2.57,cmax:15.06,colorscale:cScale,showscale:false,line:{width:0},opacity:1}},a));
T("GeneRatio",1254,2238.5,{size:17,family:SERIF});
T("Count",1473,1776.5,{size:17.5,family:SERIF,anchor:"left"});
T("-log10(pvalue)",1473,1994.8,{size:17.4,family:SERIF,anchor:"left"});
a=axes(14,1470,1502,1794.5,1940.5,Object.assign({range:[0,32]},hid),{range:[18,3.1],side:"right",tickvals:[4,6,8,10,12,14,16,18],ticks:"outside",ticklen:8.7,tickcolor:"#222",showline:true,linecolor:"#222",tickfont:{size:16.5,color:"#111"}});
traces.push(Object.assign({type:"scatter",mode:"markers",x:countLegend.map(()=>15),y:countLegend,marker:{size:countLegend.map(c=>8.7+1.13*c),color:"#4d4d4d",opacity:1},cliponaxis:false},a));
a=axes(15,1473,1502,2008.5,2162.6,Object.assign({range:[0,1]},hid),{range:[15.06,2.57],side:"right",tickvals:[4,6,8,10,12,14],ticks:"outside",ticklen:8.7,tickcolor:"#222",showline:true,linecolor:"#222",tickfont:{size:16.5,color:"#111"}});
traces.push(Object.assign({type:"heatmap",x:[0,1],y:pLevels,z:pLevels.map(v=>[v,v]),zmin:2.57,zmax:15.06,colorscale:cScale,showscale:false},a));

// ---------- panel letters ----------
[["A",28,26.5],["B",736,26.5],["C",27.5,361],["D",28,803],["E",861,804],["F",25,1311],["G",439,1311],["H",27.5,1735],["I",839,1735]].forEach(l=>T("<b>"+l[0]+"</b>",l[1],l[2],{size:47,color:"#000"}));

Plotly.newPlot("fig",traces,layout,{displayModeBar:false,staticPlot:true});
</script></body></html>
